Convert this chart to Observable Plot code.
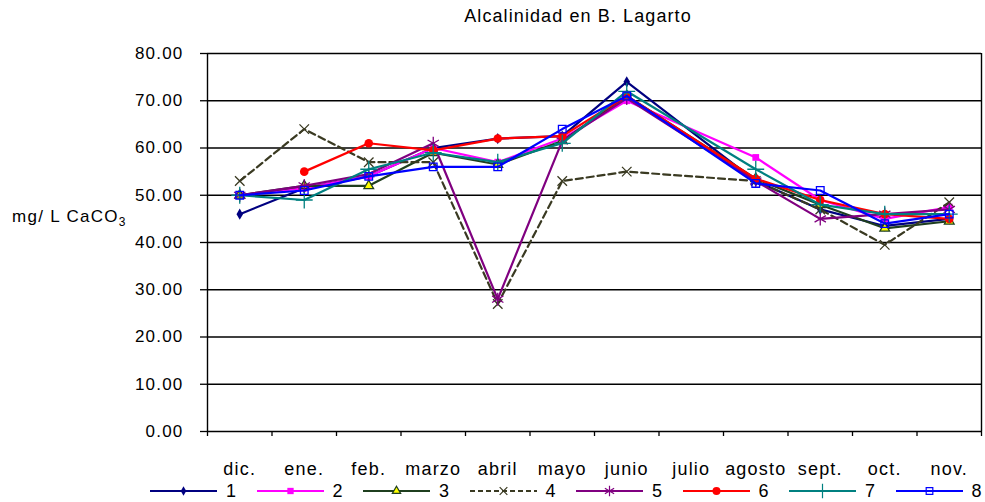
<!DOCTYPE html>
<html><head><meta charset="utf-8">
<script src="https://cdn.jsdelivr.net/npm/d3@7"></script>
<script src="https://cdn.jsdelivr.net/npm/@observablehq/plot@0.6"></script>
<style>
body{margin:0;background:#fff;font-family:"Liberation Sans",Arial,sans-serif;color:#000;}
#wrap{position:relative;width:985px;height:502px;overflow:hidden;}
#title{height:30px;position:relative;}
#title span{position:absolute;left:578px;top:6px;transform:translateX(-50%);font-size:18px;letter-spacing:1.1px;white-space:nowrap;}
#ylab{position:absolute;left:12px;top:207px;font-size:17px;letter-spacing:1.3px;white-space:nowrap;}
#ylab sub{font-size:12px;letter-spacing:0;}
#legend{position:relative;height:22px;}
.item{position:absolute;top:0;height:22px;display:flex;align-items:center;font-size:18px;}
.item svg{margin-right:9px;}
</style></head>
<body>
<div id="wrap">
  <div id="title"><span>Alcalinidad en B. Lagarto</span></div>
  <div id="chart"></div>
  <div id="legend"></div>
  <div id="ylab">mg/ L CaCO<sub>3</sub></div>
</div>
<script>
// ---- data ----
const months = ["dic.","ene.","feb.","marzo","abril","mayo","junio","julio","agosto","sept.","oct.","nov."];
const seriesNames = ["1","2","3","4","5","6","7","8"];
const s1 = [46, 51.5, 54, 60, 62, 62.5, 74, null, 53, 47, 43.5, 45];
const s2 = [50, 51.5, 54, 60, 57, 62, 70, null, 58, 49, 45, 47.5];
const s3 = [50, 52, 52, 59, 56.5, 61.5, 71, null, 53.5, 48, 43, 44.5];
const s4 = [53, 64, 57, 57, 27, 53, 55, null, 53, 47, 39.5, 48.5];
const s5 = [50, 52, 54.5, 61, 28, 61.5, 70.5, null, 53, 45, 46, 47];
const s6 = [null, 55, 61, 59.5, 62, 62.5, 71, null, 53.5, 49, 46, 45];
const s7 = [50, 49, 55.5, 59, 57, 61, 72, null, 55.5, 48, 46, 46];
const s8 = [50, 51, 54, 56, 56, 64, 71, null, 52.5, 51, 44, 46];
const yTicks = [0, 10, 20, 30, 40, 50, 60, 70, 80];

// ---- styles ----
const styles = [
  {color:"#000080", symbol:"diamond", fill:"#000080", stroke:"none", r:3.4, lsize:26},
  {color:"#ff00ff", symbol:"square", fill:"#ff00ff", stroke:"none", r:3.8, lsize:40},
  {color:"#1f3f1f", symbol:"triangle", fill:"#ffff00", stroke:"#1f3f1f", r:3.6, lsize:30},
  {color:"#3a3a22", symbol:"times", fill:"none", stroke:"#3a3a22", r:4.4, lsize:40, dash:"7,4"},
  {color:"#800080", symbol:"asterisk", fill:"none", stroke:"#800080", r:6.2, lsize:80},
  {color:"#ff0000", symbol:"circle", fill:"#ff0000", stroke:"none", r:4.3, lsize:50},
  {color:"#008080", symbol:"plus", fill:"none", stroke:"#008080", r:5.5, lsize:70},
  {color:"#0000ff", symbol:"square", fill:"none", stroke:"#0000ff", r:4.3, lsize:44}
];

const values = [s1, s2, s3, s4, s5, s6, s7, s8];
const data = [];
values.forEach((arr, k) => arr.forEach((v, i) => {
  if (v != null) data.push({serie: seriesNames[k], i, month: months[i], v});
}));

const X = d => d.i + 0.5;
const marks = [
  Plot.ruleY(yTicks, {stroke:"#000", strokeWidth:1.4}),
  Plot.ruleX([0, months.length], {stroke:"#000", strokeWidth:1.4}),
  Plot.axisX(d3.range(months.length + 1), {tickSize:5, tickFormat:() => "", stroke:"#000", strokeWidth:1.3, label:null}),
  Plot.axisX(months.map((m, i) => i + 0.5), {tickSize:0, tickPadding:31, tickFormat:d => months[Math.floor(d)], fontSize:18, label:null}),
  Plot.axisY(yTicks, {tickSize:7, tickPadding:17, tickFormat:d => d.toFixed(2), fontSize:17, stroke:"#000", strokeWidth:1.3, label:null})
];
seriesNames.forEach((s, k) => {
  const st = styles[k];
  const sd = data.filter(d => d.serie === s);
  marks.push(Plot.line(sd, {x:X, y:"v", stroke:st.color, strokeWidth:2.2, strokeDasharray:st.dash, curve:"linear"}));
  marks.push(Plot.dot(sd, {x:X, y:"v", symbol:st.symbol, r:st.r, fill:st.fill, stroke:st.stroke, strokeWidth:1.3}));
});

const chart = Plot.plot({
  width: 985,
  height: 450,
  marginTop: 23,
  marginBottom: 49,
  marginLeft: 207,
  marginRight: 4,
  style: {fontFamily:'"Liberation Sans", Arial, sans-serif', fontSize:"17px", color:"#000", background:"#fff"},
  x: {domain:[0, months.length], axis:null},
  y: {domain:[0, 80], axis:null},
  marks
});
document.getElementById("chart").appendChild(chart);
d3.select(chart).selectAll("text").attr("letter-spacing", "1.2px").attr("fill", "#000");

// ---- legend ----
const symMap = {diamond:d3.symbolDiamond, square:d3.symbolSquare, triangle:d3.symbolTriangle, times:d3.symbolTimes, asterisk:d3.symbolAsterisk, circle:d3.symbolCircle, plus:d3.symbolPlus};
const legend = d3.select("#legend");
seriesNames.forEach((s, k) => {
  const st = styles[k];
  const item = legend.append("div").attr("class", "item").style("left", (150 + k * 106.5) + "px");
  const svg = item.append("svg").attr("width", 67).attr("height", 16);
  svg.append("line").attr("x1", 0).attr("x2", 67).attr("y1", 8).attr("y2", 8)
    .attr("stroke", st.color).attr("stroke-width", 2.2).attr("stroke-dasharray", st.dash ? "5,3" : null);
  svg.append("path").attr("transform", "translate(33.5,8)")
    .attr("d", d3.symbol(symMap[st.symbol], st.lsize)())
    .attr("fill", st.fill).attr("stroke", st.stroke).attr("stroke-width", 1.2);
  item.append("span").text(s);
});
</script>
</body></html>
